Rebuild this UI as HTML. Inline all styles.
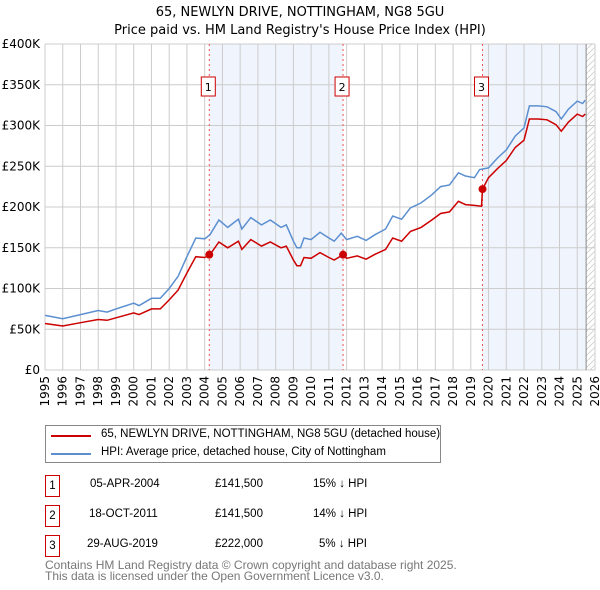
<!DOCTYPE html>
<html><head><meta charset="utf-8"><style>
body{margin:0;background:#fff;font-family:"Liberation Sans","DejaVu Sans",sans-serif;}
#wrap{position:relative;width:600px;height:590px;overflow:hidden;}
svg text{font-family:"DejaVu Sans","Liberation Sans",sans-serif;}
.t{position:absolute;font-family:"Liberation Sans","DejaVu Sans",sans-serif;font-size:11.5px;color:#000;white-space:nowrap;}
.box{position:absolute;border:1px solid #c00;width:13px;height:20px;text-align:center;line-height:20px;font-family:"Liberation Sans",sans-serif;font-size:11.5px;}
</style></head><body><div id="wrap">
<svg id="c" width="600" height="420" style="position:absolute;left:0;top:0"></svg>
<div style="position:absolute;left:45px;top:425px;width:394px;height:36px;border:1px solid #888;">
 <div><div style="position:absolute;left:5px;top:9px;width:40px;height:2px;background:#c00"></div><div class="t" style="left:55px;top:2px;">65, NEWLYN DRIVE, NOTTINGHAM, NG8 5GU (detached house)</div></div>
 <div><div style="position:absolute;left:5px;top:27px;width:40px;height:2px;background:#5b8fd0"></div><div class="t" style="left:55px;top:20px;">HPI: Average price, detached house, City of Nottingham</div></div>
</div>
<div>
 <div class="box" style="left:45px;top:475px">1</div>
 <div class="t" style="left:90px;top:478px">05-APR-2004</div><div class="t" style="left:215px;top:478px">£141,500</div><div class="t" style="left:313px;top:478px">15% ↓ HPI</div>
 <div class="box" style="left:45px;top:505px">2</div>
 <div class="t" style="left:89px;top:508px">18-OCT-2011</div><div class="t" style="left:215px;top:508px">£141,500</div><div class="t" style="left:313px;top:508px">14% ↓ HPI</div>
 <div class="box" style="left:45px;top:535px">3</div>
 <div class="t" style="left:87px;top:538px">29-AUG-2019</div><div class="t" style="left:215px;top:538px">£222,000</div><div class="t" style="left:319px;top:538px">5% ↓ HPI</div>
</div>
<div class="t" style="left:45px;top:560px;color:#777;line-height:11px;font-size:12px;">Contains HM Land Registry data © Crown copyright and database right 2025.<br>This data is licensed under the Open Government Licence v3.0.</div>
</div>
<script>
const hpiYears=[1995,1996,1997,1998,1998.5,1999,2000,2000.3,2001,2001.5,2002,2002.5,2003,2003.5,2004,2004.3,2004.8,2005.3,2005.9,2006.1,2006.6,2007.2,2007.7,2008.3,2008.6,2009,2009.2,2009.4,2009.6,2010,2010.5,2011,2011.3,2011.7,2012,2012.6,2013.1,2013.6,2014.2,2014.6,2015.1,2015.6,2016.2,2016.8,2017.3,2017.8,2018.3,2018.7,2019.2,2019.5,2020,2020.5,2021,2021.5,2022,2022.3,2022.8,2023.3,2023.8,2024.1,2024.5,2025,2025.3,2025.45];
const hpiValues=[67,63,68,73,71,75,82,79,88,88,100,115,139,162,161,166,184,175,185,173,187,178,184,175,178,158,150,150,162,160,169,162,158,168,160,164,159,166,173,189,185,199,205,215,225,227,242,238,236,246,248,260,270,287,297,324,324,323,317,308,320,330,327,331];
const propYears=[1995,1996,1997,1998,1998.5,1999,2000,2000.3,2001,2001.5,2002,2002.5,2003,2003.5,2004,2004.3,2004.8,2005.3,2005.9,2006.1,2006.6,2007.2,2007.7,2008.3,2008.6,2009,2009.2,2009.4,2009.6,2010,2010.5,2011,2011.3,2011.8,2012,2012.6,2013.1,2013.6,2014.2,2014.6,2015.1,2015.6,2016.2,2016.8,2017.3,2017.8,2018.3,2018.7,2019.2,2019.6,2019.66,2020,2020.5,2021,2021.5,2022,2022.3,2022.8,2023.3,2023.8,2024.1,2024.5,2025,2025.3,2025.45];
const propValues=[57,54,58,62,61,64,70,68,75,75,86,98,119,139,138,141.5,157,150,158,148,160,152,157,150,152,135,128,128,138,137,144,138,135,141.5,137,140,136,142,148,162,158,170,175,184,192,194,207,203,202,201,222,236,247,257,273,282,308,308,307,301,293,304,314,311,314];
const saleYears=[2004.26,2011.8,2019.66];
const salePrices=[141.5,141.5,222];
const saleLabels=["1","2","3"];
const yTicks=[0,50,100,150,200,250,300,350,400];
const yTickLabels=["£0","£50K","£100K","£150K","£200K","£250K","£300K","£350K","£400K"];
const xTickYears=[];for(let y=1995;y<=2026;y++)xTickYears.push(y);

const NS="http://www.w3.org/2000/svg",svg=document.getElementById('c');
const X0=45,X1=595,Y0=370,Y1=44;
const xs=y=>X0+(y-1995)*(X1-X0)/31, ys=v=>Y0-v*(Y0-Y1)/400;
function mk(t,a,p){const e=document.createElementNS(NS,t);for(const k in a)e.setAttribute(k,a[k]);(p||svg).appendChild(e);return e;}
let e;
e=mk('text',{x:300,y:16,'text-anchor':'middle','font-size':13});e.textContent='65, NEWLYN DRIVE, NOTTINGHAM, NG8 5GU';


e=mk('text',{x:300,y:34,'text-anchor':'middle','font-size':13});e.textContent="Price paid vs. HM Land Registry's House Price Index (HPI)";


e=mk('rect',{x:xs(saleYears[0]),y:Y1,width:xs(saleYears[1])-xs(saleYears[0]),height:Y0-Y1,fill:'#f0f4fc'});


e=mk('rect',{x:xs(saleYears[2]),y:Y1,width:xs(2025.5)-xs(saleYears[2]),height:Y0-Y1,fill:'#f0f4fc'});


const defs=mk('defs',{});const pat=mk('pattern',{id:'h',width:6,height:6,patternUnits:'userSpaceOnUse'},defs);
mk('path',{d:'M0,6 L6,0',stroke:'#ccc','stroke-width':0.8},pat);
e=mk('rect',{x:xs(2025.5),y:Y1,width:X1-xs(2025.5),height:Y0-Y1,fill:'url(#h)'});


xTickYears.forEach(y=>{e=mk('line',{x1:xs(y),x2:xs(y),y1:Y1,y2:Y0,stroke:'#ccc','stroke-width':1});


e=mk('text',{transform:`translate(${xs(y)+4},376) rotate(-90)`,'text-anchor':'end','font-size':12});e.textContent=y;

});
yTicks.forEach((v,i)=>{e=mk('line',{x1:X0,x2:X1,y1:ys(v),y2:ys(v),stroke:'#ccc','stroke-width':1});


e=mk('text',{x:40,y:ys(v)+4,'text-anchor':'end','font-size':12});e.textContent=yTickLabels[i];

});
e=mk('line',{x1:xs(2025.5),x2:xs(2025.5),y1:Y1,y2:Y0,stroke:'#888','stroke-width':1});


saleYears.forEach((y,i)=>{e=mk('line',{x1:xs(y),x2:xs(y),y1:Y1,y2:Y0,stroke:'#e55','stroke-width':1,'stroke-dasharray':'2,3'});


e=mk('rect',{x:xs(y)-8,y:77,width:14,height:19,fill:'#fff',stroke:'#c00'});


e=mk('text',{x:xs(y)-1,y:91,'text-anchor':'middle','font-size':11});e.textContent=saleLabels[i];

});
const pts=(xa,va)=>xa.map((y,i)=>xs(y).toFixed(1)+','+ys(va[i]).toFixed(1)).join(' ');
e=mk('polyline',{points:pts(hpiYears,hpiValues),fill:'none',stroke:'#5b8fd0','stroke-width':1.5});


e=mk('polyline',{points:pts(propYears,propValues),fill:'none',stroke:'#c00','stroke-width':1.5});


saleYears.forEach((y,i)=>{e=mk('circle',{cx:xs(y),cy:ys(salePrices[i]),r:4,fill:'#c00'});

});
</script></body></html>
